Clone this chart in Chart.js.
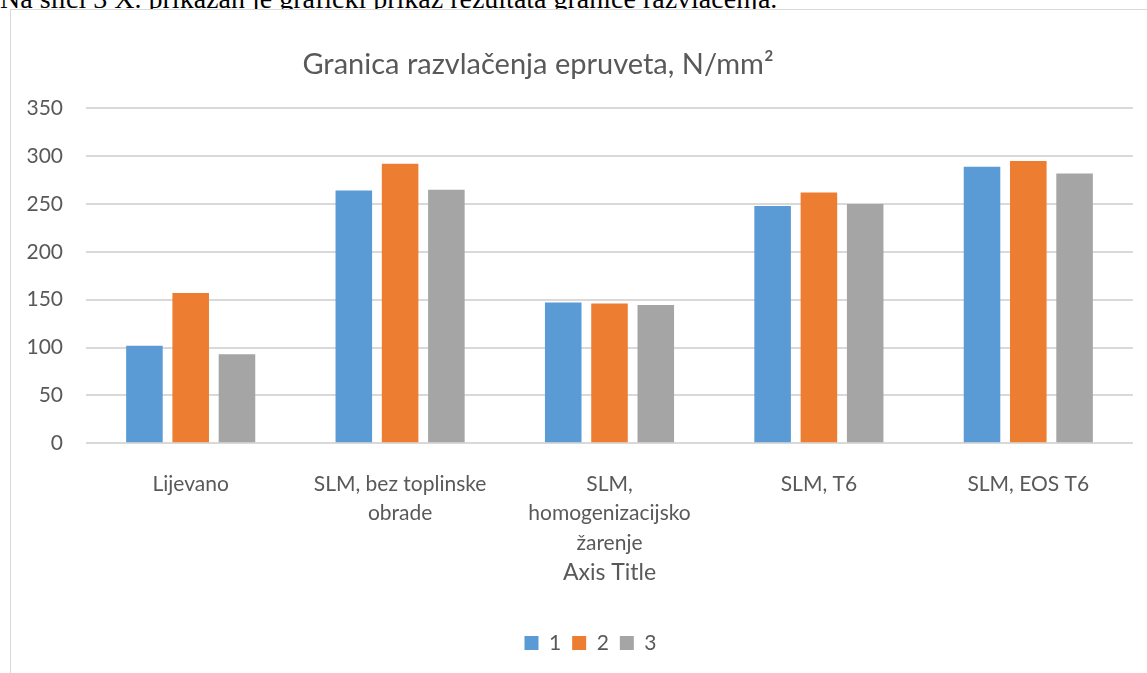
<!DOCTYPE html>
<html>
<head>
<meta charset="utf-8">
<script src="https://cdn.jsdelivr.net/npm/chart.js@4.4.1/dist/chart.umd.min.js"></script>
<style>
  html, body { margin: 0; padding: 0; width: 1147px; height: 673px; overflow: hidden; background: #fff; }
  #intro { position: absolute; left: 0; top: -15.5px; font-family: 'Liberation Serif', 'Times New Roman', serif; font-size: 28px; line-height: 28px; white-space: nowrap; color: #000; }
  #frame { position: absolute; left: 10px; top: 9px; width: 1200px; height: 700px; border: 1px solid #d9d9d9; background: #fff; }
  #wrap { position: absolute; left: 0; top: 0; width: 1147px; height: 673px; }
</style>
</head>
<body>
<div id="intro">Na slici 3 X. prikazan je grafički prikaz rezultata granice razvlačenja.</div>
<div id="frame"></div>
<div id="wrap"><canvas id="chart" width="1147" height="673"></canvas></div>
<script>
// Specimen groups (multi-line category labels)
const categories = [
  ['Lijevano'],
  ['SLM, bez toplinske', 'obrade'],
  ['SLM,', 'homogenizacijsko', 'žarenje'],
  ['SLM, T6'],
  ['SLM, EOS T6']
];

// Yield strength of each specimen, N/mm²
const specimen1 = [102, 264, 147, 248, 289];
const specimen2 = [157, 292, 146, 262, 295];
const specimen3 = [93, 265, 144.5, 250, 282];

const seriesNames = ['1', '2', '3'];
const yMin = 0;
const yMax = 350;
const yStep = 50;

const chartTitle = 'Granica razvlačenja epruveta, N/mm²';
const xAxisTitle = 'Axis Title';

const TEXT = '#595959';
const FONT = 'Lato';
const colors = ['#5b9bd5', '#ed7d31', '#a5a5a5'];

// Nudges the title and legend blocks sideways after layout
const blockOffsets = {
  id: 'blockOffsets',
  afterLayout(chart) {
    const t = chart.titleBlock;
    if (t) { t.left -= 28.5; t.right -= 28.5; }
    const l = chart.legend;
    if (l) { l.left += 24; l.right += 24; }
  }
};

const seriesValues = [specimen1, specimen2, specimen3];

new Chart(document.getElementById('chart'), {
  type: 'bar',
  data: {
    labels: categories,
    datasets: seriesNames.map((name, i) => ({
      label: name,
      data: seriesValues[i],
      backgroundColor: colors[i],
      borderWidth: 0,
      categoryPercentage: 0.663,
      barPercentage: 0.79
    }))
  },
  options: {
    responsive: false,
    animation: false,
    layout: { padding: { top: 0, left: 0, right: 14, bottom: 9.5 } },
    plugins: {
      title: {
        display: true,
        text: chartTitle,
        color: TEXT,
        font: { family: FONT, size: 29, weight: 'normal', lineHeight: 1.2 },
        padding: { top: 47.6, bottom: 25.9 }
      },
      legend: {
        position: 'bottom',
        labels: {
          boxWidth: 14,
          boxHeight: 14,
          padding: 11,
          color: TEXT,
          font: { family: FONT, size: 21 }
        }
      },
      tooltip: { enabled: false }
    },
    scales: {
      x: {
        grid: { display: false },
        border: { display: false },
        ticks: {
          color: TEXT,
          font: { family: FONT, size: 21, lineHeight: 1.4 },
          padding: 18,
          maxRotation: 0,
          autoSkip: false
        },
        title: {
          display: true,
          text: xAxisTitle,
          color: TEXT,
          font: { family: FONT, size: 23, lineHeight: 1.2 },
          padding: { top: 0, bottom: 34.7 }
        },
        afterFit(scale) { scale.height = 178.2; }
      },
      y: {
        min: yMin,
        max: yMax,
        ticks: {
          stepSize: yStep,
          padding: 23,
          color: TEXT,
          font: { family: FONT, size: 21 }
        },
        grid: { color: '#d9d9d9', lineWidth: 2, drawTicks: false },
        border: { display: false },
        afterFit(scale) { scale.width = 86; }
      }
    }
  },
  plugins: [blockOffsets]
});
</script>
</body>
</html>
